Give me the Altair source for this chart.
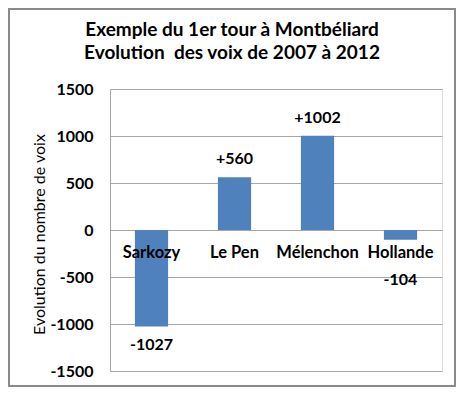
import altair as alt
import pandas as pd

candidats = ["Sarkozy", "Le Pen", "Mélenchon", "Hollande"]
evolution = [-1027, 560, 1002, -104]
etiquettes = ["-1027", "+560", "+1002", "-104"]
y_ticks = [-1500, -1000, -500, 0, 500, 1000, 1500]
titre = ["Exemple du 1er tour à Montbéliard", "Evolution\u00a0 des voix de 2007 à 2012"]
axe_titre = "Evolution du nombre de voix"

df = pd.DataFrame({"candidat": candidats, "evolution": evolution, "etiquette": etiquettes})
one = pd.DataFrame({"k": [0]})

FONT = "Lato"
GRID = "#a6a6a6"
BAR = "#4F81BD"

x = alt.X("candidat:N", sort=candidats,
          scale=alt.Scale(paddingInner=0.6, paddingOuter=0.3), axis=None)
y = alt.Y("evolution:Q",
          scale=alt.Scale(domain=[-1500, 1500], nice=False, zero=False),
          axis=alt.Axis(values=y_ticks, title=axe_titre,
                        labelExpr="'' + datum.value",
                        labelFont=FONT, labelFontWeight="bold", labelFontSize=16,
                        labelColor="#000000", labelPadding=17, ticks=False,
                        domainColor=GRID, gridColor=GRID, grid=True,
                        titleFont=FONT, titleFontWeight="normal", titleFontSize=16,
                        titleColor="#000000", titleX=-71, titleY=145,
                        titleAngle=270, titleAlign="center", titleBaseline="middle"))

base = alt.Chart(df)

bars = base.mark_bar(color=BAR).encode(x=x, y=y)

pos_labels = base.transform_filter("datum.evolution >= 0").mark_text(
    font=FONT, fontWeight="bold", fontSize=16, color="#000000",
    baseline="middle", dy=-18).encode(x=x, y="evolution:Q", text="etiquette:N")
neg_labels = base.transform_filter("datum.evolution < -500").mark_text(
    font=FONT, fontWeight="bold", fontSize=16, color="#000000",
    baseline="middle", dy=18).encode(x=x, y="evolution:Q", text="etiquette:N")
small_neg_labels = base.transform_filter("datum.evolution < 0 && datum.evolution >= -500").mark_text(
    font=FONT, fontWeight="bold", fontSize=16, color="#000000",
    baseline="middle", dy=40).encode(x=x, y="evolution:Q", text="etiquette:N")

cat_labels = base.mark_text(
    font=FONT, fontWeight="bold", fontSize=16.5, color="#000000",
    baseline="middle", dy=23).encode(x=x, y=alt.datum(0), text="candidat:N")

title = alt.Chart(one).mark_text(
    text=titre, font=FONT, fontWeight="bold", fontSize=19, color="#000000",
    align="center", baseline="alphabetic", lineHeight=23
).encode(x=alt.value(122), y=alt.value(-53))

border = alt.Chart(one).mark_rect(
    fill="transparent", stroke="#8a8a8a", strokeWidth=2
).encode(x=alt.value(-101), x2=alt.value(345), y=alt.value(-80), y2=alt.value(297))

chart = alt.layer(border, bars, pos_labels, neg_labels, small_neg_labels, cat_labels, title).properties(
    width=332, height=282,
    autosize=alt.AutoSizeParams(type="none"),
    padding={"left": 102, "top": 81, "right": 14, "bottom": 16},
).configure_view(stroke="transparent").configure(background="white")

chart.save("out.html", embed_options={"renderer": "svg", "actions": False})
